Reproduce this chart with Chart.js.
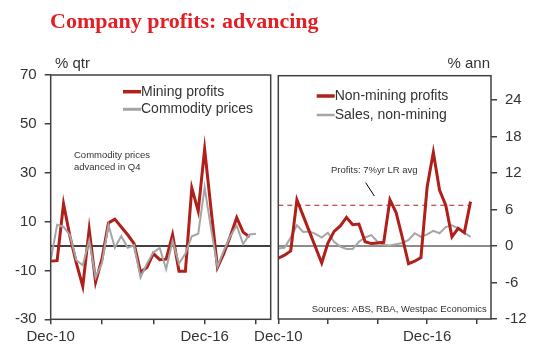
<!DOCTYPE html>
<html>
<head>
<meta charset="utf-8">
<script src="https://cdn.jsdelivr.net/npm/chart.js@4.4.1/dist/chart.umd.min.js"></script>
<style>
  body { margin: 0; background: #fff; }
  #wrap { position: relative; width: 544px; height: 361px; overflow: hidden; background: #fff; }
  #title { position: absolute; left: 50px; top: 10px; font: bold 22px "Liberation Serif", serif; line-height: 22px; color: #e31e24; white-space: nowrap; }
  #left { position: absolute; left: 0; top: 0; }
  #right { position: absolute; left: 240px; top: 0; }
</style>
</head>
<body>
<div id="wrap">
  <canvas id="left" width="272" height="361"></canvas>
  <canvas id="right" width="304" height="361"></canvas>
  <div id="title">Company profits: advancing</div>
</div>
<script>
var quarters = ['Dec-10','Mar-11','Jun-11','Sep-11','Dec-11','Mar-12','Jun-12','Sep-12','Dec-12',
  'Mar-13','Jun-13','Sep-13','Dec-13','Mar-14','Jun-14','Sep-14','Dec-14','Mar-15','Jun-15','Sep-15',
  'Dec-15','Mar-16','Jun-16','Sep-16','Dec-16','Mar-17','Jun-17','Sep-17','Dec-17','Mar-18','Jun-18',
  'Sep-18','Dec-18','Mar-19','Jun-19'];
var shownLabels = ['Dec-10', 'Dec-16'];

// left panel, % qtr
var miningProfits = [-6.1, -6, 17.3, 4, -7, -16.5, 6.8, -14.8, -5.2, 9.4, 11, 7.8, 4.6, 1, -10.7, -8.8,
  -3.1, -5.6, -5.4, 4.6, -10.3, -10.3, 23.8, 14.3, 39.7, 15, -8.8, -3, 4, 11.6, 5.7, 3.7];
var commodityPrices = [-6, 8.7, 7.8, 4.4, -5.8, -7.9, 2.3, -12.9, -6.9, 8.7, -0.7, 4.1, -0.7, 0.3, -12.9, -7.2,
  -2.6, -0.8, -9.5, 2, -7.2, -3.1, 4, 5, 24, 7, -8.5, -1.8, 4, 8.4, 0.8, 4.7, 5];

// right panel, % ann
var nonMiningProfits = [-2, -1.5, -0.8, 7.6, 5, 2.4, -0.2, -2.8, 0.5, 2.4, 3.3, 4.7, 3.5, 3.6, 0.7, 0.4,
  0.5, 0.6, 7.6, 5.5, 1.4, -2.9, -2.5, -1.9, 9.7, 15.4, 9.2, 6.7, 1.5, 2.9, 2.2, 7.3];
var salesNonMining = [-0.4, -0.3, 1.4, 3.4, 2.3, 2.4, 2.0, 1.4, 2.2, 0.7, -0.1, -0.5, -0.5, 0.7, 1.4, 1.8,
  0.7, 0.2, 0.1, 0.3, 0.5, 1.0, 2.1, 1.5, 1.9, 2.5, 2.1, 3.1, 3.4, 2.9, 2.2, 1.5];
var profitsLrAvg = 6.7;

var RED = '#b01f1a';
var GREY = '#a5a5a5';
var TXT = '#333';
var FONT = '"Liberation Sans", Arial, sans-serif';

function toXY(arr) {
  return arr.map(function (v, i) { return { x: i, y: v }; });
}

function xScale() {
  return {
    type: 'linear', min: 0, max: 34.3,
    afterFit: function (s) { s.height = 30; },
    grid: { drawOnChartArea: false, drawTicks: true, tickLength: 5, color: '#404040', lineWidth: 1.5 },
    border: { display: false },
    ticks: {
      stepSize: 8, includeBounds: false, autoSkip: false, maxRotation: 0, padding: 4,
      color: TXT, font: { family: FONT, size: 15 },
      callback: function (v) {
        var l = quarters[v];
        return shownLabels.indexOf(l) >= 0 ? l : '';
      }
    }
  };
}

var decor = {
  id: 'decor',
  beforeDatasetsDraw: function (chart, args, opts) {
    var a = chart.chartArea, ctx = chart.ctx;
    var y0 = chart.scales.y.getPixelForValue(0);
    ctx.save();
    ctx.strokeStyle = opts.zeroColor;
    ctx.lineWidth = 1.5;
    ctx.beginPath();
    ctx.moveTo(a.left, y0);
    ctx.lineTo(a.right, y0);
    ctx.stroke();
    ctx.restore();
  },
  afterDraw: function (chart, args, opts) {
    var a = chart.chartArea, ctx = chart.ctx;
    ctx.save();
    ctx.strokeStyle = '#404040';
    ctx.lineWidth = 1.5;
    ctx.strokeRect(a.left, a.top, a.right - a.left, a.bottom - a.top);

    opts.legend.forEach(function (it, i) {
      var y = a.top + opts.legendTop + i * opts.legendGap;
      var x = a.left + opts.legendLeft;
      ctx.strokeStyle = it.color;
      ctx.lineWidth = it.width;
      ctx.beginPath();
      ctx.moveTo(x, y);
      ctx.lineTo(x + 18, y);
      ctx.stroke();
      ctx.fillStyle = TXT;
      ctx.font = '14px ' + FONT;
      ctx.textBaseline = 'middle';
      ctx.textAlign = 'left';
      ctx.fillText(it.label, x + 18, y);
    });

    opts.texts.forEach(function (t) {
      ctx.fillStyle = TXT;
      ctx.font = t.size + 'px ' + FONT;
      ctx.textBaseline = 'middle';
      ctx.textAlign = t.align || 'left';
      ctx.fillText(t.text, t.x, t.y);
    });

    (opts.lines || []).forEach(function (l) {
      ctx.strokeStyle = '#000';
      ctx.lineWidth = 1;
      ctx.beginPath();
      ctx.moveTo(l[0], l[1]);
      ctx.lineTo(l[2], l[3]);
      ctx.stroke();
    });
    ctx.restore();
  }
};

new Chart(document.getElementById('left'), {
  type: 'line',
  data: {
    datasets: [
      { data: toXY(commodityPrices), borderColor: GREY, borderWidth: 2, pointRadius: 0 },
      { data: toXY(miningProfits), borderColor: RED, borderWidth: 3, pointRadius: 0 }
    ]
  },
  options: {
    responsive: false,
    animation: false,
    layout: { padding: { top: 75, right: 1.3, bottom: 11.7, left: 0 } },
    plugins: {
      legend: { display: false },
      tooltip: { enabled: false },
      decor: {
        zeroColor: '#000',
        legendLeft: 72.3, legendTop: 16.7, legendGap: 17.6,
        legend: [
          { label: 'Mining profits', color: RED, width: 3.5 },
          { label: 'Commodity prices', color: GREY, width: 3 }
        ],
        texts: [
          { text: '% qtr', x: 55, y: 64, size: 15 },
          { text: 'Commodity prices', x: 74, y: 155.7, size: 9.5 },
          { text: 'advanced in Q4', x: 74, y: 167, size: 9.5 }
        ]
      }
    },
    scales: {
      x: xScale(),
      y: {
        min: -30, max: 70,
        afterFit: function (s) { s.width = 50.7; },
        grid: { drawOnChartArea: false, drawTicks: true, tickLength: 6, color: '#404040', lineWidth: 1.5 },
        border: { display: false },
        ticks: { stepSize: 20, padding: 8, color: TXT, font: { family: FONT, size: 15 } }
      }
    }
  },
  plugins: [decor]
});

new Chart(document.getElementById('right'), {
  type: 'line',
  data: {
    datasets: [
      { data: toXY(nonMiningProfits), borderColor: RED, borderWidth: 3, pointRadius: 0 },
      { data: toXY(salesNonMining), borderColor: GREY, borderWidth: 2, pointRadius: 0 },
      {
        data: nonMiningProfits.map(function (v, i) { return { x: i, y: profitsLrAvg }; }),
        borderColor: RED, borderWidth: 1.2, borderDash: [5, 4], pointRadius: 0
      }
    ]
  },
  options: {
    responsive: false,
    animation: false,
    layout: { padding: { top: 75.7, right: 0, bottom: 12, left: 38.3 } },
    plugins: {
      legend: { display: false },
      tooltip: { enabled: false },
      decor: {
        zeroColor: '#666',
        legendLeft: 38.4, legendTop: 20.3, legendGap: 19,
        legend: [
          { label: 'Non-mining profits', color: RED, width: 3.5 },
          { label: 'Sales, non-mining', color: GREY, width: 2.5 }
        ],
        texts: [
          { text: '% ann', x: 250, y: 64, size: 15, align: 'right' },
          { text: 'Profits: 7%yr LR avg', x: 91, y: 170, size: 9.5 },
          { text: 'Sources: ABS, RBA, Westpac Economics', x: 71.7, y: 309, size: 9.5 }
        ],
        lines: [[125.7, 182.7, 134.3, 196]]
      }
    },
    scales: {
      x: xScale(),
      y: {
        position: 'right',
        min: -12, max: 28,
        afterFit: function (s) { s.width = 53; },
        grid: { drawOnChartArea: false, drawTicks: true, tickLength: 6, color: '#404040', lineWidth: 1.5 },
        border: { display: false },
        ticks: { stepSize: 6, includeBounds: false, padding: 8, color: TXT, font: { family: FONT, size: 15 } }
      }
    }
  },
  plugins: [decor]
});
</script>
</body>
</html>
